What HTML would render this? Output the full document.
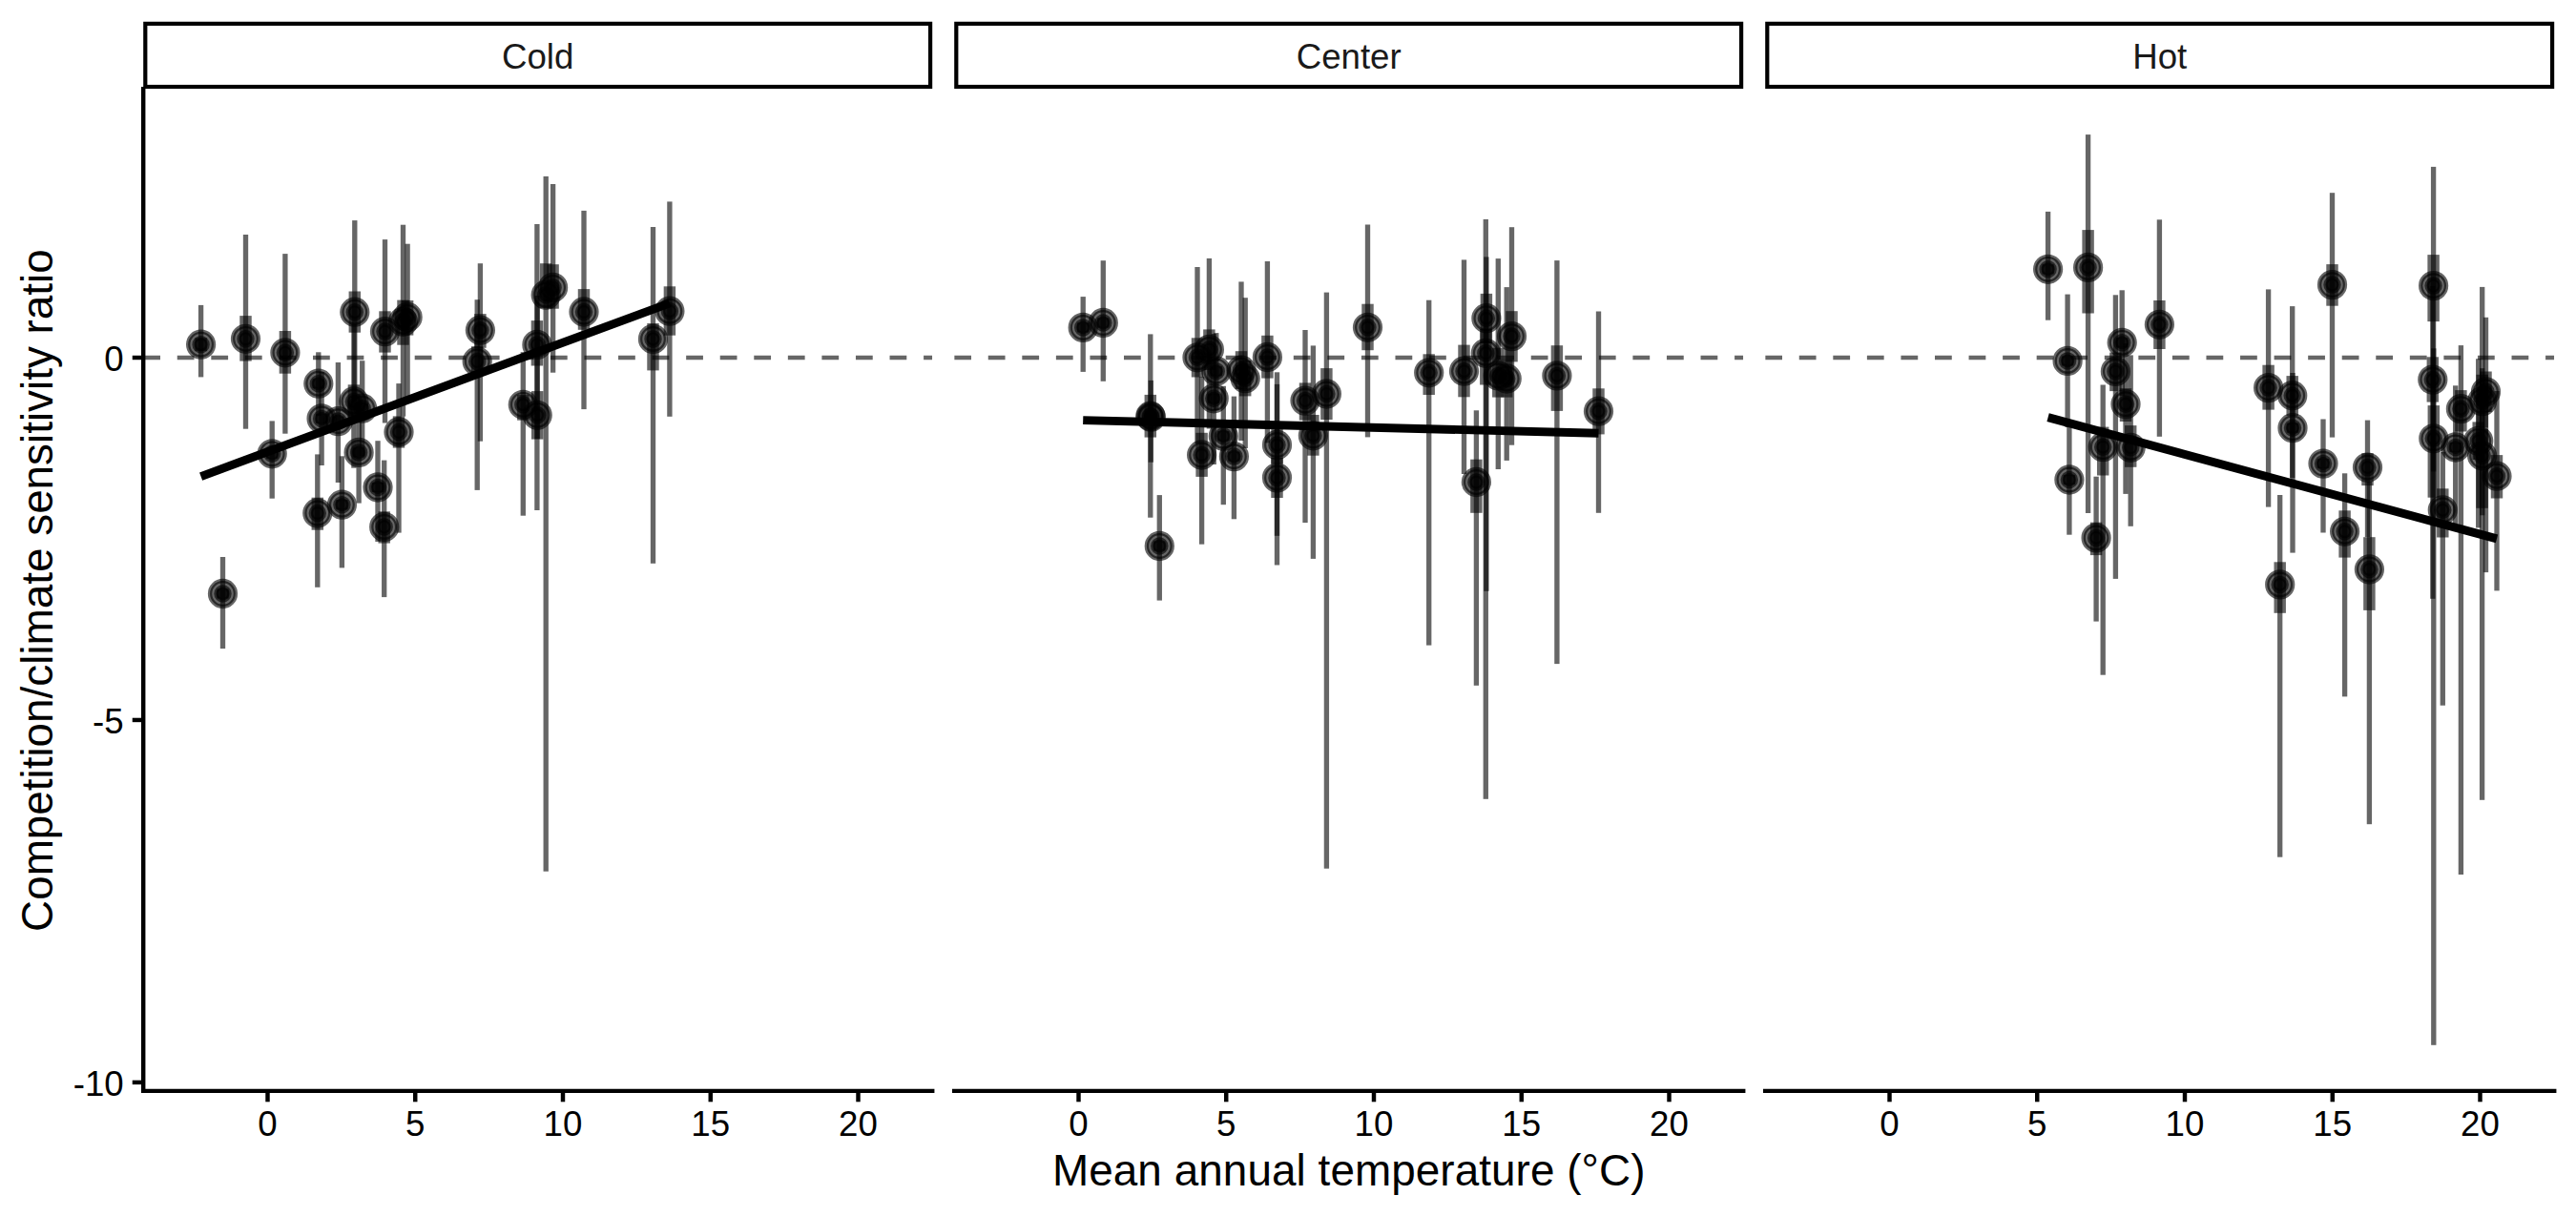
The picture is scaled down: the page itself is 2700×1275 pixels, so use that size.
<!DOCTYPE html>
<html lang="en"><head><meta charset="utf-8"><title>Competition/climate sensitivity ratio</title>
<style>html,body{margin:0;padding:0;background:#fff}svg{display:block}text{font-family:"Liberation Sans",Arial,Helvetica,sans-serif;fill:#000}.a{font-size:36.67px}.t{font-size:45.83px}.k{fill:#000;fill-opacity:0.6}.c{fill:#000;fill-opacity:0.6;stroke:#000;stroke-opacity:0.6;stroke-width:4.43}</style></head><body>
<svg width="2700" height="1275" viewBox="0 0 2700 1275">
<rect width="2700" height="1275" fill="#fff"/>
<defs>
<clipPath id="cp0"><rect x="150.20" y="93.10" width="827.00" height="1050.75"/></clipPath>
<clipPath id="cp1"><rect x="1000.20" y="93.10" width="827.00" height="1050.75"/></clipPath>
<clipPath id="cp2"><rect x="1850.20" y="93.10" width="827.00" height="1050.75"/></clipPath>
</defs>
<rect x="152.30" y="24.85" width="822.80" height="66.15" fill="#fff" stroke="#000" stroke-width="4.20"/>
<text class="a" x="563.70" y="71.9" style="fill:#1a1a1a" text-anchor="middle">Cold</text>
<rect x="1002.30" y="24.85" width="822.80" height="66.15" fill="#fff" stroke="#000" stroke-width="4.20"/>
<text class="a" x="1413.70" y="71.9" style="fill:#1a1a1a" text-anchor="middle">Center</text>
<rect x="1852.30" y="24.85" width="822.80" height="66.15" fill="#fff" stroke="#000" stroke-width="4.20"/>
<text class="a" x="2263.70" y="71.9" style="fill:#1a1a1a" text-anchor="middle">Hot</text>
<g clip-path="url(#cp0)">
<line x1="150.20" y1="375.00" x2="977.20" y2="375.00" stroke="#000" stroke-opacity="0.6" stroke-width="4.45" stroke-dasharray="17.78 17.78"/>
<rect class="k" x="207.94" y="319.90" width="5.33" height="75.50"/>
<rect class="k" x="254.84" y="246.00" width="5.33" height="203.70"/>
<rect class="k" x="296.23" y="266.10" width="5.33" height="188.60"/>
<rect class="k" x="282.53" y="441.40" width="5.33" height="81.30"/>
<rect class="k" x="230.84" y="584.00" width="5.33" height="96.10"/>
<rect class="k" x="331.13" y="369.30" width="5.33" height="66.70"/>
<rect class="k" x="334.44" y="390.00" width="5.33" height="98.00"/>
<rect class="k" x="330.13" y="476.40" width="5.33" height="139.40"/>
<rect class="k" x="351.73" y="380.00" width="5.33" height="126.00"/>
<rect class="k" x="355.73" y="478.30" width="5.33" height="117.10"/>
<rect class="k" x="369.13" y="231.10" width="5.33" height="188.90"/>
<rect class="k" x="368.23" y="340.00" width="5.33" height="150.70"/>
<rect class="k" x="373.44" y="421.00" width="5.33" height="106.60"/>
<rect class="k" x="377.03" y="378.20" width="5.33" height="99.80"/>
<rect class="k" x="393.33" y="462.20" width="5.33" height="105.80"/>
<rect class="k" x="400.83" y="251.10" width="5.33" height="192.40"/>
<rect class="k" x="400.03" y="482.60" width="5.33" height="143.50"/>
<rect class="k" x="415.33" y="402.10" width="5.33" height="156.50"/>
<rect class="k" x="419.83" y="235.70" width="5.33" height="200.90"/>
<rect class="k" x="424.44" y="255.70" width="5.33" height="162.30"/>
<rect class="k" x="500.73" y="276.20" width="5.33" height="186.50"/>
<rect class="k" x="497.53" y="314.20" width="5.33" height="199.70"/>
<rect class="k" x="545.63" y="369.20" width="5.33" height="171.50"/>
<rect class="k" x="560.24" y="235.00" width="5.33" height="300.00"/>
<rect class="k" x="560.54" y="310.00" width="5.33" height="150.00"/>
<rect class="k" x="569.54" y="184.90" width="5.33" height="728.80"/>
<rect class="k" x="576.94" y="193.00" width="5.33" height="197.70"/>
<rect class="k" x="609.34" y="220.90" width="5.33" height="208.20"/>
<rect class="k" x="681.84" y="238.00" width="5.33" height="352.80"/>
<rect class="k" x="699.24" y="211.40" width="5.33" height="225.40"/>
<rect class="k" x="204.38" y="354.30" width="12.45" height="13.90"/>
<rect class="k" x="251.28" y="331.10" width="12.45" height="47.50"/>
<rect class="k" x="292.67" y="347.00" width="12.45" height="44.70"/>
<rect class="k" x="278.97" y="470.80" width="12.45" height="10.00"/>
<rect class="k" x="227.28" y="617.50" width="12.45" height="10.00"/>
<rect class="k" x="327.57" y="397.20" width="12.45" height="10.00"/>
<rect class="k" x="330.88" y="433.90" width="12.45" height="10.00"/>
<rect class="k" x="326.57" y="521.70" width="12.45" height="34.00"/>
<rect class="k" x="348.17" y="436.60" width="12.45" height="10.00"/>
<rect class="k" x="352.17" y="524.20" width="12.45" height="10.00"/>
<rect class="k" x="365.57" y="305.50" width="12.45" height="43.20"/>
<rect class="k" x="364.67" y="403.30" width="12.45" height="35.40"/>
<rect class="k" x="369.88" y="469.40" width="12.45" height="10.00"/>
<rect class="k" x="373.47" y="423.20" width="12.45" height="10.00"/>
<rect class="k" x="389.77" y="506.00" width="12.45" height="10.00"/>
<rect class="k" x="397.27" y="326.30" width="12.45" height="43.30"/>
<rect class="k" x="396.47" y="536.30" width="12.45" height="33.30"/>
<rect class="k" x="411.77" y="436.40" width="12.45" height="33.20"/>
<rect class="k" x="416.27" y="314.60" width="12.45" height="47.10"/>
<rect class="k" x="420.88" y="315.00" width="12.45" height="36.60"/>
<rect class="k" x="497.17" y="329.10" width="12.45" height="35.70"/>
<rect class="k" x="493.97" y="363.20" width="12.45" height="31.60"/>
<rect class="k" x="542.07" y="414.00" width="12.45" height="26.70"/>
<rect class="k" x="556.67" y="336.10" width="12.45" height="47.40"/>
<rect class="k" x="556.98" y="410.10" width="12.45" height="50.50"/>
<rect class="k" x="565.98" y="276.20" width="12.45" height="46.80"/>
<rect class="k" x="573.38" y="277.20" width="12.45" height="46.50"/>
<rect class="k" x="605.77" y="303.10" width="12.45" height="42.70"/>
<rect class="k" x="678.27" y="339.00" width="12.45" height="49.40"/>
<rect class="k" x="695.67" y="300.30" width="12.45" height="51.40"/>
<circle class="c" cx="210.60" cy="361.20" r="13.42"/><circle class="c" cx="210.60" cy="361.20" r="7.02"/>
<circle class="c" cx="257.50" cy="355.30" r="13.42"/><circle class="c" cx="257.50" cy="355.30" r="7.02"/>
<circle class="c" cx="298.90" cy="369.80" r="13.42"/><circle class="c" cx="298.90" cy="369.80" r="7.02"/>
<circle class="c" cx="285.20" cy="475.80" r="13.42"/><circle class="c" cx="285.20" cy="475.80" r="7.02"/>
<circle class="c" cx="233.50" cy="622.50" r="13.42"/><circle class="c" cx="233.50" cy="622.50" r="7.02"/>
<circle class="c" cx="333.80" cy="402.20" r="13.42"/><circle class="c" cx="333.80" cy="402.20" r="7.02"/>
<circle class="c" cx="337.10" cy="438.90" r="13.42"/><circle class="c" cx="337.10" cy="438.90" r="7.02"/>
<circle class="c" cx="332.80" cy="538.00" r="13.42"/><circle class="c" cx="332.80" cy="538.00" r="7.02"/>
<circle class="c" cx="354.40" cy="441.60" r="13.42"/><circle class="c" cx="354.40" cy="441.60" r="7.02"/>
<circle class="c" cx="358.40" cy="529.20" r="13.42"/><circle class="c" cx="358.40" cy="529.20" r="7.02"/>
<circle class="c" cx="371.80" cy="327.20" r="13.42"/><circle class="c" cx="371.80" cy="327.20" r="7.02"/>
<circle class="c" cx="370.90" cy="421.00" r="13.42"/><circle class="c" cx="370.90" cy="421.00" r="7.02"/>
<circle class="c" cx="376.10" cy="474.40" r="13.42"/><circle class="c" cx="376.10" cy="474.40" r="7.02"/>
<circle class="c" cx="379.70" cy="428.20" r="13.42"/><circle class="c" cx="379.70" cy="428.20" r="7.02"/>
<circle class="c" cx="396.00" cy="511.00" r="13.42"/><circle class="c" cx="396.00" cy="511.00" r="7.02"/>
<circle class="c" cx="403.50" cy="347.60" r="13.42"/><circle class="c" cx="403.50" cy="347.60" r="7.02"/>
<circle class="c" cx="402.70" cy="552.40" r="13.42"/><circle class="c" cx="402.70" cy="552.40" r="7.02"/>
<circle class="c" cx="418.00" cy="453.00" r="13.42"/><circle class="c" cx="418.00" cy="453.00" r="7.02"/>
<circle class="c" cx="422.50" cy="337.30" r="13.42"/><circle class="c" cx="422.50" cy="337.30" r="7.02"/>
<circle class="c" cx="427.10" cy="332.50" r="13.42"/><circle class="c" cx="427.10" cy="332.50" r="7.02"/>
<circle class="c" cx="503.40" cy="346.20" r="13.42"/><circle class="c" cx="503.40" cy="346.20" r="7.02"/>
<circle class="c" cx="500.20" cy="379.00" r="13.42"/><circle class="c" cx="500.20" cy="379.00" r="7.02"/>
<circle class="c" cx="548.30" cy="424.30" r="13.42"/><circle class="c" cx="548.30" cy="424.30" r="7.02"/>
<circle class="c" cx="562.90" cy="361.40" r="13.42"/><circle class="c" cx="562.90" cy="361.40" r="7.02"/>
<circle class="c" cx="563.20" cy="435.30" r="13.42"/><circle class="c" cx="563.20" cy="435.30" r="7.02"/>
<circle class="c" cx="572.20" cy="309.20" r="13.42"/><circle class="c" cx="572.20" cy="309.20" r="7.02"/>
<circle class="c" cx="579.60" cy="301.40" r="13.42"/><circle class="c" cx="579.60" cy="301.40" r="7.02"/>
<circle class="c" cx="612.00" cy="327.00" r="13.42"/><circle class="c" cx="612.00" cy="327.00" r="7.02"/>
<circle class="c" cx="684.50" cy="355.40" r="13.42"/><circle class="c" cx="684.50" cy="355.40" r="7.02"/>
<circle class="c" cx="701.90" cy="326.20" r="13.42"/><circle class="c" cx="701.90" cy="326.20" r="7.02"/>
<line x1="210.60" y1="499.60" x2="701.90" y2="317.80" stroke="#000" stroke-width="8.9"/>
</g>
<g clip-path="url(#cp1)">
<line x1="1000.20" y1="375.00" x2="1827.20" y2="375.00" stroke="#000" stroke-opacity="0.6" stroke-width="4.45" stroke-dasharray="17.78 17.78"/>
<rect class="k" x="1132.54" y="311.10" width="5.33" height="78.80"/>
<rect class="k" x="1153.63" y="273.20" width="5.33" height="126.60"/>
<rect class="k" x="1203.13" y="350.40" width="5.33" height="192.30"/>
<rect class="k" x="1203.63" y="398.90" width="5.33" height="85.80"/>
<rect class="k" x="1212.63" y="519.10" width="5.33" height="110.50"/>
<rect class="k" x="1252.34" y="280.00" width="5.33" height="185.00"/>
<rect class="k" x="1256.93" y="395.00" width="5.33" height="175.70"/>
<rect class="k" x="1264.74" y="270.90" width="5.33" height="178.60"/>
<rect class="k" x="1269.54" y="350.00" width="5.33" height="137.00"/>
<rect class="k" x="1272.13" y="349.10" width="5.33" height="80.90"/>
<rect class="k" x="1279.63" y="404.80" width="5.33" height="124.40"/>
<rect class="k" x="1290.74" y="415.60" width="5.33" height="128.70"/>
<rect class="k" x="1298.34" y="295.40" width="5.33" height="166.60"/>
<rect class="k" x="1302.54" y="312.20" width="5.33" height="157.80"/>
<rect class="k" x="1325.74" y="274.00" width="5.33" height="190.40"/>
<rect class="k" x="1335.84" y="390.30" width="5.33" height="202.20"/>
<rect class="k" x="1335.84" y="402.90" width="5.33" height="158.90"/>
<rect class="k" x="1365.34" y="346.00" width="5.33" height="202.10"/>
<rect class="k" x="1373.74" y="362.40" width="5.33" height="223.50"/>
<rect class="k" x="1387.74" y="306.60" width="5.33" height="604.10"/>
<rect class="k" x="1430.84" y="235.50" width="5.33" height="222.90"/>
<rect class="k" x="1495.04" y="314.70" width="5.33" height="361.90"/>
<rect class="k" x="1531.84" y="272.40" width="5.33" height="224.60"/>
<rect class="k" x="1544.74" y="430.30" width="5.33" height="288.50"/>
<rect class="k" x="1555.24" y="269.40" width="5.33" height="350.40"/>
<rect class="k" x="1554.63" y="229.90" width="5.33" height="607.90"/>
<rect class="k" x="1567.63" y="271.10" width="5.33" height="220.90"/>
<rect class="k" x="1576.54" y="301.10" width="5.33" height="181.80"/>
<rect class="k" x="1581.84" y="238.20" width="5.33" height="228.50"/>
<rect class="k" x="1629.24" y="273.10" width="5.33" height="423.00"/>
<rect class="k" x="1672.84" y="326.50" width="5.33" height="211.30"/>
<rect class="k" x="1128.98" y="338.40" width="12.45" height="10.00"/>
<rect class="k" x="1150.08" y="333.50" width="12.45" height="10.00"/>
<rect class="k" x="1199.58" y="413.90" width="12.45" height="44.70"/>
<rect class="k" x="1200.08" y="432.10" width="12.45" height="10.00"/>
<rect class="k" x="1209.08" y="567.50" width="12.45" height="10.00"/>
<rect class="k" x="1248.78" y="354.30" width="12.45" height="41.20"/>
<rect class="k" x="1253.38" y="453.80" width="12.45" height="46.10"/>
<rect class="k" x="1261.18" y="345.40" width="12.45" height="42.60"/>
<rect class="k" x="1265.98" y="412.80" width="12.45" height="10.00"/>
<rect class="k" x="1268.58" y="384.20" width="12.45" height="10.00"/>
<rect class="k" x="1276.08" y="452.20" width="12.45" height="10.00"/>
<rect class="k" x="1287.18" y="473.60" width="12.45" height="10.00"/>
<rect class="k" x="1294.78" y="368.20" width="12.45" height="39.80"/>
<rect class="k" x="1298.98" y="378.00" width="12.45" height="37.40"/>
<rect class="k" x="1322.18" y="351.80" width="12.45" height="44.80"/>
<rect class="k" x="1332.28" y="448.00" width="12.45" height="38.00"/>
<rect class="k" x="1332.28" y="480.00" width="12.45" height="42.00"/>
<rect class="k" x="1361.78" y="401.40" width="12.45" height="39.20"/>
<rect class="k" x="1370.18" y="435.00" width="12.45" height="42.70"/>
<rect class="k" x="1384.18" y="386.10" width="12.45" height="53.90"/>
<rect class="k" x="1427.28" y="318.70" width="12.45" height="48.50"/>
<rect class="k" x="1491.48" y="371.30" width="12.45" height="42.70"/>
<rect class="k" x="1528.28" y="361.60" width="12.45" height="54.70"/>
<rect class="k" x="1541.18" y="481.70" width="12.45" height="56.10"/>
<rect class="k" x="1551.68" y="307.90" width="12.45" height="52.10"/>
<rect class="k" x="1551.08" y="345.00" width="12.45" height="58.50"/>
<rect class="k" x="1564.08" y="364.70" width="12.45" height="51.90"/>
<rect class="k" x="1572.98" y="377.00" width="12.45" height="39.60"/>
<rect class="k" x="1578.28" y="326.20" width="12.45" height="53.20"/>
<rect class="k" x="1625.68" y="362.20" width="12.45" height="68.70"/>
<rect class="k" x="1669.28" y="407.30" width="12.45" height="48.10"/>
<circle class="c" cx="1135.20" cy="343.40" r="13.42"/><circle class="c" cx="1135.20" cy="343.40" r="7.02"/>
<circle class="c" cx="1156.30" cy="338.50" r="13.42"/><circle class="c" cx="1156.30" cy="338.50" r="7.02"/>
<circle class="c" cx="1205.80" cy="436.20" r="13.42"/><circle class="c" cx="1205.80" cy="436.20" r="7.02"/>
<circle class="c" cx="1206.30" cy="437.10" r="13.42"/><circle class="c" cx="1206.30" cy="437.10" r="7.02"/>
<circle class="c" cx="1215.30" cy="572.50" r="13.42"/><circle class="c" cx="1215.30" cy="572.50" r="7.02"/>
<circle class="c" cx="1255.00" cy="374.80" r="13.42"/><circle class="c" cx="1255.00" cy="374.80" r="7.02"/>
<circle class="c" cx="1259.60" cy="477.00" r="13.42"/><circle class="c" cx="1259.60" cy="477.00" r="7.02"/>
<circle class="c" cx="1267.40" cy="366.50" r="13.42"/><circle class="c" cx="1267.40" cy="366.50" r="7.02"/>
<circle class="c" cx="1272.20" cy="417.80" r="13.42"/><circle class="c" cx="1272.20" cy="417.80" r="7.02"/>
<circle class="c" cx="1274.80" cy="389.20" r="13.42"/><circle class="c" cx="1274.80" cy="389.20" r="7.02"/>
<circle class="c" cx="1282.30" cy="457.20" r="13.42"/><circle class="c" cx="1282.30" cy="457.20" r="7.02"/>
<circle class="c" cx="1293.40" cy="478.60" r="13.42"/><circle class="c" cx="1293.40" cy="478.60" r="7.02"/>
<circle class="c" cx="1301.00" cy="388.20" r="13.42"/><circle class="c" cx="1301.00" cy="388.20" r="7.02"/>
<circle class="c" cx="1305.20" cy="396.70" r="13.42"/><circle class="c" cx="1305.20" cy="396.70" r="7.02"/>
<circle class="c" cx="1328.40" cy="374.50" r="13.42"/><circle class="c" cx="1328.40" cy="374.50" r="7.02"/>
<circle class="c" cx="1338.50" cy="466.50" r="13.42"/><circle class="c" cx="1338.50" cy="466.50" r="7.02"/>
<circle class="c" cx="1338.50" cy="500.90" r="13.42"/><circle class="c" cx="1338.50" cy="500.90" r="7.02"/>
<circle class="c" cx="1368.00" cy="420.10" r="13.42"/><circle class="c" cx="1368.00" cy="420.10" r="7.02"/>
<circle class="c" cx="1376.40" cy="456.80" r="13.42"/><circle class="c" cx="1376.40" cy="456.80" r="7.02"/>
<circle class="c" cx="1390.40" cy="413.00" r="13.42"/><circle class="c" cx="1390.40" cy="413.00" r="7.02"/>
<circle class="c" cx="1433.50" cy="343.30" r="13.42"/><circle class="c" cx="1433.50" cy="343.30" r="7.02"/>
<circle class="c" cx="1497.70" cy="390.80" r="13.42"/><circle class="c" cx="1497.70" cy="390.80" r="7.02"/>
<circle class="c" cx="1534.50" cy="389.20" r="13.42"/><circle class="c" cx="1534.50" cy="389.20" r="7.02"/>
<circle class="c" cx="1547.40" cy="505.50" r="13.42"/><circle class="c" cx="1547.40" cy="505.50" r="7.02"/>
<circle class="c" cx="1557.90" cy="333.70" r="13.42"/><circle class="c" cx="1557.90" cy="333.70" r="7.02"/>
<circle class="c" cx="1557.30" cy="370.30" r="13.42"/><circle class="c" cx="1557.30" cy="370.30" r="7.02"/>
<circle class="c" cx="1570.30" cy="393.90" r="13.42"/><circle class="c" cx="1570.30" cy="393.90" r="7.02"/>
<circle class="c" cx="1579.20" cy="397.00" r="13.42"/><circle class="c" cx="1579.20" cy="397.00" r="7.02"/>
<circle class="c" cx="1584.50" cy="352.60" r="13.42"/><circle class="c" cx="1584.50" cy="352.60" r="7.02"/>
<circle class="c" cx="1631.90" cy="393.90" r="13.42"/><circle class="c" cx="1631.90" cy="393.90" r="7.02"/>
<circle class="c" cx="1675.50" cy="431.20" r="13.42"/><circle class="c" cx="1675.50" cy="431.20" r="7.02"/>
<line x1="1135.20" y1="440.60" x2="1675.50" y2="454.20" stroke="#000" stroke-width="8.9"/>
</g>
<g clip-path="url(#cp2)">
<line x1="1850.20" y1="375.00" x2="2677.20" y2="375.00" stroke="#000" stroke-opacity="0.6" stroke-width="4.45" stroke-dasharray="17.78 17.78"/>
<rect class="k" x="2143.93" y="221.90" width="5.33" height="113.80"/>
<rect class="k" x="2164.43" y="308.60" width="5.33" height="139.40"/>
<rect class="k" x="2166.24" y="445.00" width="5.33" height="115.70"/>
<rect class="k" x="2185.93" y="141.10" width="5.33" height="396.90"/>
<rect class="k" x="2194.43" y="499.70" width="5.33" height="151.90"/>
<rect class="k" x="2201.53" y="403.50" width="5.33" height="304.20"/>
<rect class="k" x="2214.74" y="309.30" width="5.33" height="297.60"/>
<rect class="k" x="2221.53" y="304.30" width="5.33" height="110.70"/>
<rect class="k" x="2225.34" y="360.00" width="5.33" height="157.90"/>
<rect class="k" x="2230.53" y="372.40" width="5.33" height="179.40"/>
<rect class="k" x="2260.74" y="230.30" width="5.33" height="227.50"/>
<rect class="k" x="2374.93" y="303.40" width="5.33" height="228.20"/>
<rect class="k" x="2387.03" y="519.00" width="5.33" height="379.70"/>
<rect class="k" x="2400.03" y="321.10" width="5.33" height="180.00"/>
<rect class="k" x="2400.34" y="391.00" width="5.33" height="188.60"/>
<rect class="k" x="2432.34" y="439.50" width="5.33" height="119.00"/>
<rect class="k" x="2441.84" y="202.20" width="5.33" height="256.40"/>
<rect class="k" x="2454.93" y="496.30" width="5.33" height="234.10"/>
<rect class="k" x="2478.84" y="440.60" width="5.33" height="122.40"/>
<rect class="k" x="2480.74" y="505.00" width="5.33" height="359.20"/>
<rect class="k" x="2547.93" y="174.90" width="5.33" height="319.50"/>
<rect class="k" x="2547.14" y="300.00" width="5.33" height="327.80"/>
<rect class="k" x="2548.14" y="365.30" width="5.33" height="730.50"/>
<rect class="k" x="2557.64" y="474.00" width="5.33" height="265.70"/>
<rect class="k" x="2571.03" y="404.30" width="5.33" height="144.70"/>
<rect class="k" x="2576.74" y="362.10" width="5.33" height="554.90"/>
<rect class="k" x="2595.03" y="376.20" width="5.33" height="177.20"/>
<rect class="k" x="2599.03" y="300.90" width="5.33" height="239.40"/>
<rect class="k" x="2598.93" y="386.20" width="5.33" height="452.60"/>
<rect class="k" x="2602.84" y="332.80" width="5.33" height="267.30"/>
<rect class="k" x="2614.34" y="410.00" width="5.33" height="209.40"/>
<rect class="k" x="2140.38" y="277.30" width="12.45" height="10.00"/>
<rect class="k" x="2160.88" y="373.40" width="12.45" height="10.00"/>
<rect class="k" x="2162.68" y="498.00" width="12.45" height="10.00"/>
<rect class="k" x="2182.38" y="241.10" width="12.45" height="87.40"/>
<rect class="k" x="2190.88" y="547.70" width="12.45" height="34.40"/>
<rect class="k" x="2197.97" y="447.60" width="12.45" height="50.90"/>
<rect class="k" x="2211.18" y="369.60" width="12.45" height="40.50"/>
<rect class="k" x="2217.97" y="354.30" width="12.45" height="10.00"/>
<rect class="k" x="2221.78" y="407.20" width="12.45" height="34.80"/>
<rect class="k" x="2226.97" y="446.10" width="12.45" height="43.70"/>
<rect class="k" x="2257.18" y="315.00" width="12.45" height="51.00"/>
<rect class="k" x="2371.38" y="382.70" width="12.45" height="46.90"/>
<rect class="k" x="2383.47" y="589.30" width="12.45" height="53.50"/>
<rect class="k" x="2396.47" y="394.10" width="12.45" height="41.90"/>
<rect class="k" x="2396.78" y="443.70" width="12.45" height="10.00"/>
<rect class="k" x="2428.78" y="481.10" width="12.45" height="10.00"/>
<rect class="k" x="2438.28" y="277.10" width="12.45" height="43.60"/>
<rect class="k" x="2451.38" y="535.30" width="12.45" height="49.30"/>
<rect class="k" x="2475.28" y="475.20" width="12.45" height="33.90"/>
<rect class="k" x="2477.18" y="563.20" width="12.45" height="76.70"/>
<rect class="k" x="2544.38" y="267.10" width="12.45" height="70.00"/>
<rect class="k" x="2543.58" y="374.30" width="12.45" height="47.30"/>
<rect class="k" x="2544.58" y="425.10" width="12.45" height="96.60"/>
<rect class="k" x="2554.08" y="512.30" width="12.45" height="51.20"/>
<rect class="k" x="2567.47" y="464.00" width="12.45" height="10.00"/>
<rect class="k" x="2573.18" y="409.10" width="12.45" height="43.40"/>
<rect class="k" x="2591.47" y="442.40" width="12.45" height="39.60"/>
<rect class="k" x="2595.47" y="392.80" width="12.45" height="55.60"/>
<rect class="k" x="2595.38" y="450.00" width="12.45" height="82.80"/>
<rect class="k" x="2599.28" y="389.50" width="12.45" height="42.50"/>
<rect class="k" x="2610.78" y="477.10" width="12.45" height="45.40"/>
<circle class="c" cx="2146.60" cy="282.30" r="13.42"/><circle class="c" cx="2146.60" cy="282.30" r="7.02"/>
<circle class="c" cx="2167.10" cy="378.40" r="13.42"/><circle class="c" cx="2167.10" cy="378.40" r="7.02"/>
<circle class="c" cx="2168.90" cy="503.00" r="13.42"/><circle class="c" cx="2168.90" cy="503.00" r="7.02"/>
<circle class="c" cx="2188.60" cy="280.40" r="13.42"/><circle class="c" cx="2188.60" cy="280.40" r="7.02"/>
<circle class="c" cx="2197.10" cy="563.90" r="13.42"/><circle class="c" cx="2197.10" cy="563.90" r="7.02"/>
<circle class="c" cx="2204.20" cy="468.70" r="13.42"/><circle class="c" cx="2204.20" cy="468.70" r="7.02"/>
<circle class="c" cx="2217.40" cy="389.40" r="13.42"/><circle class="c" cx="2217.40" cy="389.40" r="7.02"/>
<circle class="c" cx="2224.20" cy="359.30" r="13.42"/><circle class="c" cx="2224.20" cy="359.30" r="7.02"/>
<circle class="c" cx="2228.00" cy="423.70" r="13.42"/><circle class="c" cx="2228.00" cy="423.70" r="7.02"/>
<circle class="c" cx="2233.20" cy="469.30" r="13.42"/><circle class="c" cx="2233.20" cy="469.30" r="7.02"/>
<circle class="c" cx="2263.40" cy="340.30" r="13.42"/><circle class="c" cx="2263.40" cy="340.30" r="7.02"/>
<circle class="c" cx="2377.60" cy="406.60" r="13.42"/><circle class="c" cx="2377.60" cy="406.60" r="7.02"/>
<circle class="c" cx="2389.70" cy="612.90" r="13.42"/><circle class="c" cx="2389.70" cy="612.90" r="7.02"/>
<circle class="c" cx="2402.70" cy="414.70" r="13.42"/><circle class="c" cx="2402.70" cy="414.70" r="7.02"/>
<circle class="c" cx="2403.00" cy="448.70" r="13.42"/><circle class="c" cx="2403.00" cy="448.70" r="7.02"/>
<circle class="c" cx="2435.00" cy="486.10" r="13.42"/><circle class="c" cx="2435.00" cy="486.10" r="7.02"/>
<circle class="c" cx="2444.50" cy="298.60" r="13.42"/><circle class="c" cx="2444.50" cy="298.60" r="7.02"/>
<circle class="c" cx="2457.60" cy="557.30" r="13.42"/><circle class="c" cx="2457.60" cy="557.30" r="7.02"/>
<circle class="c" cx="2481.50" cy="490.10" r="13.42"/><circle class="c" cx="2481.50" cy="490.10" r="7.02"/>
<circle class="c" cx="2483.40" cy="597.00" r="13.42"/><circle class="c" cx="2483.40" cy="597.00" r="7.02"/>
<circle class="c" cx="2550.60" cy="299.60" r="13.42"/><circle class="c" cx="2550.60" cy="299.60" r="7.02"/>
<circle class="c" cx="2549.80" cy="398.10" r="13.42"/><circle class="c" cx="2549.80" cy="398.10" r="7.02"/>
<circle class="c" cx="2550.80" cy="459.80" r="13.42"/><circle class="c" cx="2550.80" cy="459.80" r="7.02"/>
<circle class="c" cx="2560.30" cy="534.80" r="13.42"/><circle class="c" cx="2560.30" cy="534.80" r="7.02"/>
<circle class="c" cx="2573.70" cy="469.00" r="13.42"/><circle class="c" cx="2573.70" cy="469.00" r="7.02"/>
<circle class="c" cx="2579.40" cy="428.70" r="13.42"/><circle class="c" cx="2579.40" cy="428.70" r="7.02"/>
<circle class="c" cx="2597.70" cy="462.30" r="13.42"/><circle class="c" cx="2597.70" cy="462.30" r="7.02"/>
<circle class="c" cx="2601.70" cy="420.60" r="13.42"/><circle class="c" cx="2601.70" cy="420.60" r="7.02"/>
<circle class="c" cx="2601.60" cy="477.80" r="13.42"/><circle class="c" cx="2601.60" cy="477.80" r="7.02"/>
<circle class="c" cx="2605.50" cy="410.80" r="13.42"/><circle class="c" cx="2605.50" cy="410.80" r="7.02"/>
<circle class="c" cx="2617.00" cy="499.20" r="13.42"/><circle class="c" cx="2617.00" cy="499.20" r="7.02"/>
<line x1="2146.60" y1="437.60" x2="2617.00" y2="564.90" stroke="#000" stroke-width="8.9"/>
</g>
<g stroke="#000" stroke-width="4.45" stroke-linecap="square">
<line x1="150.20" y1="93.10" x2="150.20" y2="1143.85"/>
<line x1="150.20" y1="1143.85" x2="977.20" y2="1143.85"/>
<line x1="1000.20" y1="1143.85" x2="1827.20" y2="1143.85"/>
<line x1="1850.20" y1="1143.85" x2="2677.20" y2="1143.85"/>
</g>
<g stroke="#000" stroke-width="4.45">
<line x1="138.74" y1="375.00" x2="150.20" y2="375.00"/>
<line x1="138.74" y1="754.95" x2="150.20" y2="754.95"/>
<line x1="138.74" y1="1134.90" x2="150.20" y2="1134.90"/>
<line x1="280.50" y1="1143.85" x2="280.50" y2="1155.31"/>
<line x1="435.25" y1="1143.85" x2="435.25" y2="1155.31"/>
<line x1="590.00" y1="1143.85" x2="590.00" y2="1155.31"/>
<line x1="744.75" y1="1143.85" x2="744.75" y2="1155.31"/>
<line x1="899.50" y1="1143.85" x2="899.50" y2="1155.31"/>
<line x1="1130.50" y1="1143.85" x2="1130.50" y2="1155.31"/>
<line x1="1285.25" y1="1143.85" x2="1285.25" y2="1155.31"/>
<line x1="1440.00" y1="1143.85" x2="1440.00" y2="1155.31"/>
<line x1="1594.75" y1="1143.85" x2="1594.75" y2="1155.31"/>
<line x1="1749.50" y1="1143.85" x2="1749.50" y2="1155.31"/>
<line x1="1980.50" y1="1143.85" x2="1980.50" y2="1155.31"/>
<line x1="2135.25" y1="1143.85" x2="2135.25" y2="1155.31"/>
<line x1="2290.00" y1="1143.85" x2="2290.00" y2="1155.31"/>
<line x1="2444.75" y1="1143.85" x2="2444.75" y2="1155.31"/>
<line x1="2599.50" y1="1143.85" x2="2599.50" y2="1155.31"/>
</g>
<text class="a" x="129.7" y="389.40" text-anchor="end">0</text>
<text class="a" x="129.7" y="769.35" text-anchor="end">-5</text>
<text class="a" x="129.7" y="1149.30" text-anchor="end">-10</text>
<text class="a" x="280.50" y="1191.3" text-anchor="middle">0</text>
<text class="a" x="435.25" y="1191.3" text-anchor="middle">5</text>
<text class="a" x="590.00" y="1191.3" text-anchor="middle">10</text>
<text class="a" x="744.75" y="1191.3" text-anchor="middle">15</text>
<text class="a" x="899.50" y="1191.3" text-anchor="middle">20</text>
<text class="a" x="1130.50" y="1191.3" text-anchor="middle">0</text>
<text class="a" x="1285.25" y="1191.3" text-anchor="middle">5</text>
<text class="a" x="1440.00" y="1191.3" text-anchor="middle">10</text>
<text class="a" x="1594.75" y="1191.3" text-anchor="middle">15</text>
<text class="a" x="1749.50" y="1191.3" text-anchor="middle">20</text>
<text class="a" x="1980.50" y="1191.3" text-anchor="middle">0</text>
<text class="a" x="2135.25" y="1191.3" text-anchor="middle">5</text>
<text class="a" x="2290.00" y="1191.3" text-anchor="middle">10</text>
<text class="a" x="2444.75" y="1191.3" text-anchor="middle">15</text>
<text class="a" x="2599.50" y="1191.3" text-anchor="middle">20</text>
<text class="t" x="1413.7" y="1242.6" text-anchor="middle" textLength="621.4" lengthAdjust="spacing">Mean annual temperature (°C)</text>
<text class="t" transform="translate(54.9,619.1) rotate(-90)" text-anchor="middle">Competition/climate sensitivity ratio</text>
</svg></body></html>
